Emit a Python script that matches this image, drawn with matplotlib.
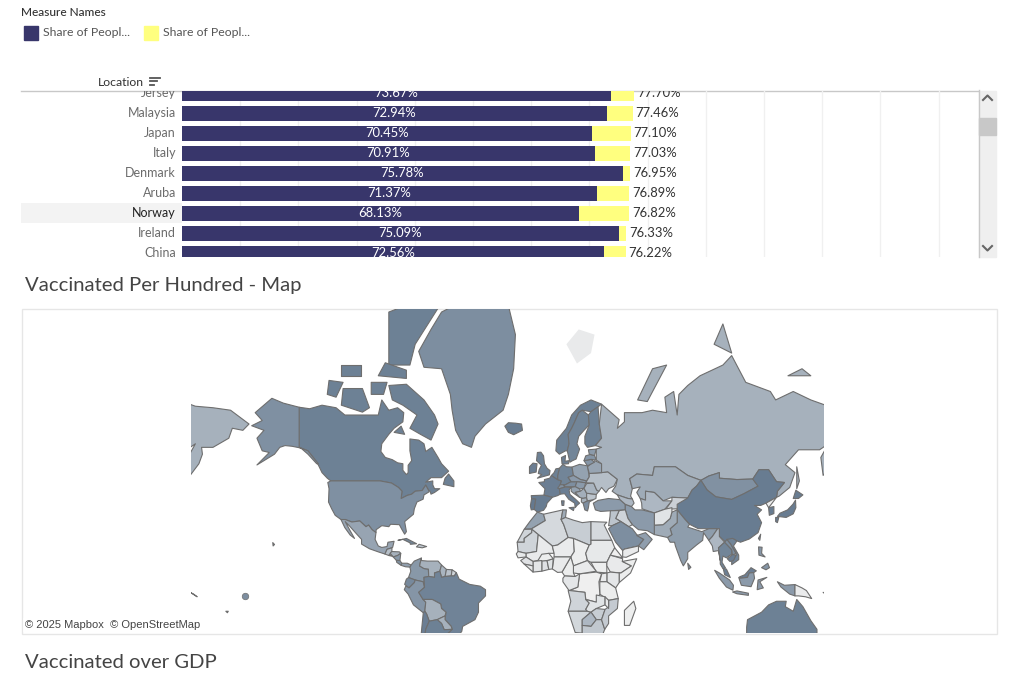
import numpy as np
import matplotlib
matplotlib.use('Agg')
import matplotlib.pyplot as plt
from matplotlib.colors import LinearSegmentedColormap
from matplotlib.patches import Polygon, Rectangle

plt.rcParams['font.family'] = ['Lato', 'DejaVu Sans']

# bar chart values
locations = ['Jersey', 'Malaysia', 'Japan', 'Italy', 'Denmark', 'Aruba', 'Norway', 'Ireland', 'China']
fully_vacc = [73.67, 72.94, 70.45, 70.91, 75.78, 71.37, 68.13, 75.09, 72.56]
at_least_one = [77.70, 77.46, 77.10, 77.03, 76.95, 76.89, 76.82, 76.33, 76.22]

# rough country outlines, (lon, lat)
canada = [(-141,69.6),(-135,69.3),(-128,70),(-120,69.5),(-115,68),(-108,68),(-100,68),(-96,68),(-94,71),(-90,69),(-85,69.5),(-81.5,68.5),(-82,66.5),(-87,65),(-90,63.5),(-94,61),(-94.5,58.8),(-92,57),(-88,56.3),(-85,55.3),(-82,55),(-82,52.8),(-80,51.3),(-79,52),(-79,54.5),(-77,56),(-78,59),(-78,62.3),(-73,62),(-70,61),(-69,58.8),(-65.5,60),(-62,57),(-60,55),(-56,52.5),(-60,50.2),(-66,50.2),(-69,48.5),(-65,49),(-65,47.5),(-64,46),(-61,46),(-64,44.5),(-66,43.8),(-66.5,45),(-67.5,45.5),(-69,47.4),(-71,45.3),(-75,45),(-77,43.8),(-79.5,43.3),(-83,42),(-82.5,45),(-84.5,46.5),(-88.5,48.2),(-95,49),(-123,49),(-125,50),(-128,52),(-130,54.5),(-133,57),(-136,59),(-141,60)]
baffin = [(-62,66),(-66,62),(-72,63.5),(-78,65),(-74,68),(-82,70),(-88,71),(-90,73.5),(-80,73.7),(-70,71),(-64,68)]
victoria_isl = [(-117,70),(-105,68.6),(-101,69.5),(-105,73),(-116,73)]
banks_isl = [(-125,72),(-120,71.5),(-116,74),(-124,74.3)]
ellesmere = [(-90,76.5),(-78,76.5),(-75,79),(-62,82.3),(-70,83),(-90,82)]
devon_isl = [(-96,75),(-80,74.6),(-80,75.8),(-92,76.8)]
melville_isl = [(-117,75),(-106,75),(-106,76.5),(-117,76.5)]
somerset_isl = [(-100,72),(-93,72),(-91,74),(-100,74)]
southampton = [(-87,64),(-81,63.5),(-83,65.5)]
newfoundland = [(-59,47.7),(-53,46.8),(-53,49),(-56,51.5),(-58,50)]
greenland = [(-73,78.2),(-66,80.5),(-60,82),(-40,83.3),(-22,82.5),(-18,80),(-19,76),(-22,72),(-25,69),(-35,66),(-41,63),(-43,60),(-48,61),(-52,64.5),(-54,69),(-55,72),(-60,76),(-70,76.2)]
alaska = [(-141,69.6),(-150,70.4),(-156.5,71.3),(-166,68.5),(-162,66.8),(-168,65.6),(-161,64.5),(-165,62.5),(-162,59),(-158,58.5),(-165,54.6),(-155,58),(-152,60),(-149,60.5),(-145,60.3),(-140,59.8),(-136,58),(-131,55),(-130,55),(-133,57),(-136,59),(-141,60)]
usa = [(-123,49),(-95,49),(-88.5,48.2),(-84.5,46.5),(-82.5,45),(-83,42),(-79.5,43.3),(-77,43.8),(-75,45),(-71,45.3),(-69,47.4),(-67.5,45.5),(-67,44.8),(-70,43.5),(-70.5,41.7),(-74,40.5),(-75.5,37.5),(-76,35),(-81,31.5),(-80,26.5),(-81,25.2),(-82.8,28),(-84,30),(-89,30.2),(-90,29),(-94,29.5),(-97.2,27.5),(-97.3,26),(-99.5,27.5),(-101.5,29.8),(-103,29),(-106.5,31.8),(-111,31.3),(-114.8,32.5),(-117.2,32.5),(-120.5,34.5),(-122.5,37.5),(-124.3,40.5),(-124,46),(-124.7,48.4)]
hawaii = [(-156,20.8),(-155,19.8),(-155.8,19)]
mexico = [(-117.2,32.5),(-114.8,32.5),(-111,31.3),(-106.5,31.8),(-103,29),(-101.5,29.8),(-99.5,27.5),(-97.3,26),(-97.8,22.5),(-96,19),(-94,18.2),(-91,18.7),(-90.5,21),(-87,21.5),(-87.8,18.3),(-89,17.8),(-91,17.2),(-92.2,14.6),(-96,15.8),(-101,17.5),(-105.5,20),(-105.5,22.5),(-109,26),(-112.5,29.5),(-114.8,31.5),(-112,27),(-109.5,23),(-112,24.8),(-115,28.5)]
guatemala = [(-92.2,14.6),(-91,17.2),(-89,17.8),(-88.2,18),(-88.3,16),(-89.2,15),(-90,13.8)]
honduras = [(-89.2,15),(-88.3,16),(-84,15.8),(-83.2,15),(-85,13.8),(-87.5,13)]
el_salvador = [(-90,13.8),(-89.2,14.3),(-87.8,13.3)]
nicaragua = [(-87.5,13),(-85,13.8),(-83.2,15),(-83.7,11),(-85.7,11.1)]
costa_rica = [(-85.7,11.1),(-83.7,11),(-82.6,9.5),(-83,8.3),(-85.5,10)]
panama = [(-83,8.3),(-82.6,9.5),(-79.5,9.5),(-77.3,8.5),(-78,7.3),(-80.5,7.5)]
cuba = [(-84.8,22),(-80,23),(-74.2,20.2),(-77.7,19.9),(-78,20.7),(-82,22.5)]
hispaniola = [(-74.3,18.5),(-72.8,19.9),(-68.5,18.7),(-71,18)]
colombia = [(-77.3,8.5),(-75.5,10.7),(-71.5,12.4),(-72.5,8),(-70,6.5),(-67.5,6.2),(-67.3,2),(-70,1.5),(-69.7,-4.2),(-70.5,-1),(-75,0),(-78.8,1.4),(-77.5,5),(-78,7.3)]
venezuela = [(-71.5,12.4),(-71.5,11),(-68,10.7),(-62,10.7),(-60,8.5),(-61,5),(-64,4),(-64,1.5),(-67.3,2),(-67.5,6.2),(-70,6.5),(-72.5,8)]
guyana = [(-60,8.5),(-57.2,6),(-58,2),(-60,1.5),(-61,5)]
suriname = [(-57.2,6),(-54,5.8),(-54.5,2.3),(-58,2)]
fr_guiana = [(-54,5.8),(-51.6,4.2),(-52.7,2.3),(-54.5,2.3)]
ecuador = [(-78.8,1.4),(-75,0),(-75.5,-1.5),(-78.5,-4.5),(-81,-2.5),(-80,0.5)]
peru = [(-80.3,-3.4),(-78.5,-4.5),(-75.5,-1.5),(-75,0),(-70.5,-1),(-69.7,-4.2),(-73,-7),(-70.5,-11),(-69,-12.5),(-69.5,-17.5),(-70.4,-18.3),(-76,-14),(-79,-8),(-81.2,-5.5)]
brazil = [(-61,5),(-60,1.5),(-58,2),(-54.5,2.3),(-52.7,2.3),(-51.6,4.2),(-50,0.5),(-44,-2.5),(-38,-3.5),(-35,-5.5),(-35,-9),(-39,-13),(-39,-18),(-41,-22),(-48,-25.5),(-48.5,-28),(-52,-32),(-53.5,-34),(-57.5,-30),(-54,-27),(-54.5,-25.5),(-58,-22),(-57.5,-18),(-60,-16),(-60.5,-13.5),(-65.3,-11),(-70.5,-11),(-73,-7),(-69.7,-4.2),(-70,1.5),(-67.3,2),(-64,1.5),(-64,4)]
bolivia = [(-69,-12.5),(-70.5,-11),(-65.3,-11),(-60.5,-13.5),(-60,-16),(-57.5,-18),(-58,-20),(-62.5,-22),(-67,-22.8),(-68.5,-19),(-69.5,-17.5)]
paraguay = [(-58,-20),(-58,-22),(-54.5,-25.5),(-54,-27),(-58.5,-27.2),(-60,-24),(-62.5,-22)]
chile = [(-70.4,-18.3),(-69.5,-17.5),(-68.5,-19),(-67,-22.8),(-69,-27),(-70,-33),(-72,-33)]
argentina = [(-67,-22.8),(-62.5,-22),(-60,-24),(-58.5,-27.2),(-54,-27),(-57.5,-30),(-58.5,-34),(-62,-39),(-69,-40),(-70,-33),(-69,-27)]

norway = [(5,59),(7,58),(10.5,59),(11.5,59),(12.5,61),(12,63.5),(14,65),(15.5,66.3),(18,68.5),(20,69),(25,68.7),(29,69.7),(31,70.2),(25,71),(19,70),(14,68),(11,65),(5.5,62)]
sweden = [(11.5,59),(13,55.5),(14.5,56),(16.5,56.5),(18.5,59.5),(17,61),(18,63),(21,64.5),(24,65.8),(23.5,68),(20,69),(18,68.5),(15.5,66.3),(14,65),(12,63.5),(12.5,61)]
finland = [(24,65.8),(21.5,63),(21.5,61),(23,60),(27.5,60.5),(31,62.5),(29.7,66),(29,69.7),(25,68.7),(23.5,68)]
denmark = [(8.5,55),(8.2,57),(10.5,57.6),(10.2,55.8),(12.5,56),(12.2,55),(9.8,54.9)]
iceland = [(-24,65.5),(-22,64),(-19,63.4),(-14,64.5),(-14.5,66),(-18,66.2),(-22,66.3)]
svalbard = [(11,79),(17,76.7),(25,78),(27,80),(18,80.5)]
uk = [(-5.5,50),(1.3,51.2),(1.7,52.7),(0,53.5),(-1.5,55),(-2,57.5),(-3.5,58.6),(-5.5,58.5),(-6,56),(-3.2,54.5),(-4.5,53),(-5,51.7),(-3,51.3)]
ireland = [(-10,51.7),(-6.2,52.2),(-6,53.5),(-5.7,55),(-8,55.2),(-10,54)]
france = [(-1.8,43.4),(3,42.5),(6,43.2),(7.5,43.8),(7,46),(7.5,47.6),(8.2,49),(6,49.5),(2.5,51),(1.5,50),(-1.5,49.5),(-1.5,48.7),(-4.7,48.4),(-1.2,46)]
spain = [(-9,43.2),(-1.8,43.4),(3,42.5),(0,40),(-0.5,38.5),(-2,36.8),(-5.5,36),(-7.3,37.2),(-7,39.5),(-6.5,41.7),(-8.8,41.9)]
portugal = [(-8.8,41.9),(-6.5,41.7),(-7,39.5),(-7.3,37.2),(-9,37),(-9.5,38.8)]
germany = [(6,51),(7,53.5),(9,54.8),(11,54),(14.2,53.9),(15,51),(12,50.3),(13.7,48.7),(10,47.4),(7.5,47.6),(8.2,49),(6,49.5)]
benelux = [(2.5,51),(4,52),(5,53.3),(7,53.5),(6,51),(6,49.5)]
switzerland = [(6,46.2),(7,46),(10,46.5),(9.5,47.5),(7.5,47.6)]
austria = [(9.5,47.5),(10,47.4),(13.7,48.7),(17,48.7),(16,46.8),(10,46.8)]
italy = [(7,46),(7.5,43.8),(10,44),(12.3,41.7),(15.7,40),(16,38),(17,39),(18.5,40),(16,41.8),(13,43.7),(12.5,45.5),(13.7,46.5),(10,46.6)]
sicily = [(12.5,38),(15.5,38.2),(15,36.7)]
sardinia = [(8.2,41),(9.7,41),(9.5,39),(8.5,39)]
poland = [(14.2,53.9),(18.5,54.8),(23,54.3),(24,50.5),(22.5,49),(19,49.5),(15,51)]
czechoslovakia = [(12,50.3),(15,51),(19,49.5),(22.5,49),(22,48.3),(17,48.7),(13.7,48.7)]
hungary = [(16,46.8),(17,48.7),(22,48.3),(21,46.2),(18.5,45.9)]
croatia = [(13.7,46.5),(16,46.8),(18.5,45.9),(19,45),(16,44.5),(18.5,42.5),(15,44.2),(13.7,45)]
serbia = [(19,45),(21,46.2),(22.5,44.2),(22.5,42.3),(20.5,42),(18.5,42.5),(16,44.5)]
albania = [(19.5,42),(22.5,42.3),(23,41),(20.5,40),(19.5,40.5)]
greece = [(20.5,40),(23,41),(26.3,41.5),(24,40.5),(23.5,38),(23,36.5),(21.5,37),(21,38.5)]
bulgaria = [(22.5,44.2),(28,43.7),(27.8,42),(26.3,41.5),(23,41),(22.5,42.3)]
romania = [(21,46.2),(22.5,48),(26.5,48.2),(28.2,45.5),(29.5,45),(28,43.7),(22.5,44.2)]
ukraine = [(22,48.3),(24,50.5),(24,51.7),(31,52),(34.5,52.3),(40,49.6),(38,47),(35,46),(33.5,44.5),(31,46.5),(29.5,45),(28.2,45.5),(26.5,48.2)]
belarus = [(24,51.7),(23,54),(27,56),(31,55),(31,52)]
lithuania = [(21,56),(23,54.3),(27,55.5),(25,56.4)]
latvia = [(21,56),(25,56.4),(28,56.2),(27,57.6),(24.5,57.9),(22,57.5)]
estonia = [(24,58),(27,57.6),(28,59.5),(23.5,59.3)]
turkey = [(26.3,40),(29,41.2),(35,42),(41.5,41.5),(44.5,39.5),(44.5,37),(36,36.6),(30.5,36.3),(27.5,37)]

russia = [(31,70.2),(41,67),(40,65),(44,66.5),(44,68.5),(54,68.5),(60,69),(68,68.5),(67,71.5),(72,72.5),(74,68),(75,72),(80,73.5),(87,75),(100,76.5),(105,77.7),(113,74),(127,72.5),(130,71),(140,72.5),(150,71),(160,69.8),(170,69.5),(180,69),(190.5,66),(187,64.5),(181,65),(179,62.5),(170,60),(163.5,60),(164,58),(162,55),(157,51),(155.7,57),(160,61),(155,59.3),(143,59.3),(135.5,54.7),(141,52),(138,46.5),(132,43),(130.5,42.5),(131,45),(135,48.4),(130.5,48.7),(126,53),(120.5,53),(117,49.7),(108,49.5),(98,50),(98,52),(92,50.8),(87.5,49.2),(80,51),(73,54),(61,54),(60,51),(51,51.5),(47,49.8),(48.5,46),(47.5,43),(48.5,41.8),(46,42),(40,43.5),(37,45),(39,47),(40,49.6),(34.5,52.3),(31,52),(31,55),(28,56.2),(28,59.5),(31,60),(27.5,60.5),(31,62.5),(29.7,66)]
sakhalin = [(142,54),(143.5,49),(142,46),(142,50)]
novaya_zemlya = [(51.5,71),(57,70.7),(68,76.5),(60,76)]
severnaya = [(95,79),(105,78),(100,81)]
new_siberian = [(137,75),(150,75),(145,76)]
kazakhstan = [(47,49.8),(51,51.5),(60,51),(61,54),(73,54),(80,51),(87.5,49.2),(85,47),(82.5,45.5),(80,42.2),(71,42.5),(66,41),(61,44.5),(56,45),(56,41.3),(53,42),(51,44.5),(53,46.7),(48.5,46)]
uzbekistan = [(53,42),(56,41.3),(56,45),(61,44.5),(66,41),(71,41),(67,37.3),(61,35.6),(54,37.5),(53.8,40)]
kyrgyzstan = [(71,42.5),(80,42.2),(74,37.5),(67.5,37.3),(71,41)]
mongolia = [(87.5,49.2),(92,50.8),(98,52),(98,50),(108,49.5),(117,49.7),(120,47),(112,44),(105,41.6),(96,42.7),(91,45.5)]
china = [(74,39.5),(80,42.2),(82.5,45.5),(85,47),(87.5,49.2),(91,45.5),(96,42.7),(105,41.6),(112,44),(120,47),(117,49.7),(120.5,53),(126,53),(130.5,48.7),(135,48.4),(131,45),(130.5,42.5),(124.5,40),(121.5,39),(118,39),(122,37),(119.5,35),(122,31),(120,26),(115,22.7),(110,21),(108,21.7),(105.5,23),(101.5,21.2),(98,24),(98,28),(92,28),(86,28),(81,30.2),(78.5,32.5),(74,37)]
north_korea = [(124.5,40),(130.5,42.5),(127.5,39.5),(126,38)]
south_korea = [(126,38),(129,38.5),(129,35.3),(126.4,34.5)]
honshu = [(131,34),(136,33.5),(140,35.2),(141.5,38),(141.3,41.3),(139.8,39.5),(136.8,37),(132.5,35.5)]
hokkaido = [(140,42),(141.5,45.4),(145.5,43.5),(143,42)]
kyushu = [(130,33.5),(131.8,33.5),(131,31),(130,31.5)]
india = [(74,37),(78.5,32.5),(81,30.2),(80,28.8),(88,26.5),(92,28),(97,28),(94,24),(92,22),(89,26),(88.5,22),(85,19.5),(80,15.5),(80,12),(77.5,8),(76,11),(73,19),(72.5,21),(70,21),(68.5,23.5),(71,25),(70,28),(74,31)]
pakistan = [(61,25),(68.5,23.5),(71,25),(70,28),(74,31),(74,37),(71,36),(70,33),(66,30),(61,29.8)]
afghanistan = [(61,35.6),(67,37.3),(71,38),(71,36),(70,33),(66,30),(61,29.8)]
iran = [(44.5,39.5),(48,38.5),(50,37),(54,37),(61,35.6),(61,25),(57,27),(52,27.5),(48.5,30),(46,33),(44.5,37)]
iraq = [(44.5,37),(46,33),(48.5,30),(46.5,29),(42,31.5),(39,33),(41,36.7)]
syria = [(36,36.6),(41,36.7),(39,33),(42,31.5),(37,29.5),(35,29.5),(35.8,34)]
saudi = [(35,28),(37,29.5),(42,31.5),(46.5,29),(48.5,28),(51,25),(55,22.5),(52,19),(44,17.3),(43,16.5),(39,21)]
oman = [(51,24.5),(56,26),(59.8,22.5),(55,17),(52,19),(55,22.5)]
yemen = [(43,13),(43,16.5),(44,17.3),(52,19),(52,16),(45,12.8)]
caucasus = [(40,43.5),(46,42),(48.5,41.8),(49.5,40),(48,38.5),(44.5,39.5),(41.5,41.5)]
myanmar = [(92,22),(94,24),(97,28),(98,28),(98,24),(101,21),(97.5,18),(98.5,11),(97.5,16.5),(94.5,16),(94,19)]
thailand = [(97.5,18),(101,21),(105,17),(105,14.5),(102,12.5),(100,13.5),(99.5,10),(101.5,6.8),(100,6.5),(98.5,9),(98.5,11)]
laos = [(101,21),(102.3,22.5),(104.5,20),(107.5,15),(105.5,14),(105,17)]
vietnam = [(102.3,22.5),(105.5,23),(108,21.7),(106,19),(109,14),(109,11.5),(105,8.7),(105,10.5),(107.5,14),(107.5,15),(104.5,20)]
cambodia = [(102.5,12),(105.5,14.3),(107.5,14),(106,11),(104,10.5)]
malaya = [(100.2,6.5),(102,6.2),(103.5,3),(104.2,1.4),(101,3)]
sarawak = [(109.5,1.8),(112.5,3),(116,7),(119,5.2),(117.5,4.2),(115,4),(114,1.5),(110,1)]
kalimantan = [(109,1.5),(110,1),(114,1.5),(115,4),(117.5,4.2),(118,1),(116,-3.8),(110.5,-3)]
sumatra = [(95.3,5.5),(98,4),(103.8,0),(106,-3),(105.7,-5.8),(102,-4),(98,1)]
java = [(105.5,-6.8),(108,-6.2),(114.5,-7.5),(114.5,-8.7),(108,-7.8)]
sulawesi = [(119.5,-5.5),(120,0),(125,1.5),(121,-1),(123,-4.5)]
west_papua = [(131,-1),(135,-3),(141,-2.6),(141,-9),(138,-8),(133,-4)]
png = [(141,-2.6),(145,-4.5),(147.5,-6),(150.5,-10.5),(147,-9.5),(143,-9),(141,-9)]
luzon = [(120.3,18.5),(122.3,18.3),(122,15),(124,13),(120.5,14)]
mindanao = [(122,7),(125.5,9.5),(126.5,7),(124.5,5.8)]
sri_lanka = [(80,9.5),(81.8,7.2),(80.5,6)]
taiwan = [(120.2,23),(121.5,25.2),(121,22)]
australia = [(113.5,-26),(114,-22),(122,-18),(126,-14),(130.5,-12),(136,-12),(135.5,-15),(140,-17.5),(142,-11),(145.5,-15),(150,-22.5),(153.5,-27),(153.5,-30),(113.5,-30)]
solomon = [(157,-7),(161,-9.5),(159,-8)]
fiji = [(177.3,-17.5),(178.7,-17.5),(178.2,-18.3)]

morocco = [(-5.5,36),(-2,35),(-1,32),(-8.7,28),(-13,27.7),(-9.8,31.5)]
w_sahara = [(-8.7,27.7),(-13,27.7),(-17,21),(-13,21),(-13,23),(-8.7,26)]
algeria = [(-2,35),(9,37),(8,32.5),(9.5,30),(12,23.5),(6,19.5),(3,19),(-8.7,27.7),(-8.7,28),(-1,32)]
tunisia = [(9,37),(11,37),(10.5,33.5),(8,32.5)]
libya = [(10.5,33.5),(15,32.2),(20,31),(25,31.5),(25,20),(24,19.5),(15,23),(12,23.5),(9.5,30),(8,32.5)]
egypt = [(25,31.5),(34,31.2),(32.5,29.8),(36.8,22),(25,22)]
mauritania = [(-17,21),(-13,21),(-13,23),(-8.7,26),(-8.7,27.7),(-5,25),(-6,16),(-12,15),(-16.5,16)]
mali = [(-5,25),(3,19),(4,15),(1,15),(-3,11.5),(-8,10.5),(-12,13),(-12,15),(-6,16)]
niger = [(3,19),(6,19.5),(12,23.5),(15,23),(15.5,16),(13.5,13),(4,13),(4,15)]
chad = [(15,23),(24,19.5),(22,15),(23,11),(15,8),(13.5,13),(15.5,16)]
sudan = [(24,19.5),(25,20),(25,22),(36.8,22),(38.5,18),(36,14),(34,10),(25,10),(23,11),(22,15)]
south_sudan = [(25,10),(34,10),(34,4),(28,4.5)]
ethiopia = [(36,14),(43,12),(42.8,10.5),(48,8),(42,4),(36,4.5),(34,8),(34,10)]
eritrea = [(36,14),(38.5,18),(43,12.5)]
somalia = [(42.8,10.5),(51,12),(47.5,4),(41,-1.5),(41,4),(42,4),(48,8)]
kenya = [(34,4),(36,4.5),(41,4),(41,-1.5),(39,-4.5),(34,-1)]
uganda = [(30,-1),(34,-1),(34,4),(31,3.5)]
tanzania = [(30,-1),(34,-1),(39,-4.5),(40.5,-10.5),(35,-11.5),(30,-8)]
drc = [(12.5,-6),(17.5,-4),(18.5,3.5),(28,4.5),(31,3.5),(29.5,-1),(30,-8),(28,-12.5),(22,-11),(21.5,-7),(13,-6)]
car = [(15,8),(23,11),(28,5),(18.5,3.5),(15,4)]
cameroon = [(8.5,4.5),(13.5,13),(15,8),(15,4),(16,2),(10,2.3)]
nigeria = [(3,6.3),(4,13),(13.5,13),(8.5,4.5),(6,4.3)]
gabon = [(9,1),(10,2.3),(16,2),(18.5,3.5),(17.5,-4),(12.5,-6),(9,-1)]
ghana = [(-3,5),(1,6),(0,11),(-3,11)]
benin = [(1,6),(3,6.3),(3.5,12),(0,11)]
burkina = [(-5.5,10.5),(0,11),(3.5,12),(1,15),(-3,14.5)]
ivory_coast = [(-8,4.5),(-3,5),(-3,11),(-8,10.5)]
guinea = [(-15,11),(-12,13),(-8,10.5),(-8,8),(-13,9)]
liberia = [(-13,9),(-8,8),(-8,4.5)]
senegal = [(-17.5,14.7),(-16.5,16),(-12,15),(-12,13),(-16.5,12.5)]
angola = [(12,-6),(13,-6),(21.5,-7),(22,-11),(24,-13),(22,-16.5),(23,-17.5),(12,-17.5),(13.5,-12)]
namibia = [(12,-17.5),(23,-17.5),(25,-18),(20,-22),(20,-29),(16,-28.6)]
zambia = [(22,-11),(28,-12.5),(28,-8.5),(33,-9.5),(33,-14),(28,-16),(25,-18),(23,-17.5),(22,-16.5),(24,-13)]
zimbabwe = [(25,-18),(28,-16),(33,-16.5),(31,-22),(28,-22)]
botswana = [(20,-22),(25,-18),(28,-22),(25,-25.5),(20,-25)]
south_africa = [(16.5,-29),(20,-29),(20,-25),(25,-25.5),(28,-22),(31,-22),(32.8,-27),(31,-31),(18,-33)]
mozambique = [(40.5,-10.5),(35,-11.5),(35,-15),(33,-16.5),(31,-22),(32.8,-27),(35,-24),(35,-20),(40,-16)]
malawi = [(33,-9.5),(35,-11.5),(35,-16),(33,-14)]
madagascar = [(49.3,-12),(50.5,-16),(47,-25),(44,-25),(44,-17)]

america_shapes = [canada, baffin, victoria_isl, banks_isl, ellesmere, devon_isl, melville_isl, somerset_isl, southampton, newfoundland, greenland, alaska, usa, hawaii, mexico, guatemala, honduras, el_salvador, nicaragua, costa_rica, panama, cuba, hispaniola]
america_values = [88, 88, 88, 88, 88, 88, 88, 88, 88, 88, 78, 76, 76, 76, 60, 40, 50, 55, 70, 75, 65, 85, 35]
south_shapes = [colombia, venezuela, guyana, suriname, fr_guiana, ecuador, peru, brazil, bolivia, paraguay, chile, argentina]
south_values = [70, 50, 48, 38, 22, 82, 72, 86, 50, 50, 90, 88]
europe_shapes = [norway, sweden, finland, denmark, iceland, svalbard, uk, ireland, france, spain, portugal, germany, benelux, switzerland, austria, italy, sicily, sardinia, poland, czechoslovakia, hungary, croatia, serbia, albania, greece, bulgaria, romania, ukraine, belarus, lithuania, latvia, estonia, turkey]
europe_values = [88, 85, 88, 90, 92, 5, 88, 90, 90, 92, 94, 85, 88, 75, 78, 90, 90, 90, 62, 68, 68, 62, 52, 50, 78, 35, 48, 40, 60, 72, 72, 68, 68]
asia_shapes = [russia, sakhalin, novaya_zemlya, severnaya, new_siberian, kazakhstan, uzbekistan, kyrgyzstan, mongolia, china, north_korea, south_korea, honshu, hokkaido, kyushu, india, pakistan, afghanistan, iran, iraq, syria, saudi, oman, yemen, caucasus, myanmar, thailand, laos, vietnam, cambodia, malaya, sarawak, kalimantan, sumatra, java, sulawesi, west_papua, png, luzon, mindanao, sri_lanka, taiwan]
asia_values = [50, 50, 50, 50, 50, 55, 45, 25, 75, 92, 2, 92, 92, 92, 92, 66, 55, 10, 68, 22, 35, 78, 65, 5, 45, 45, 85, 78, 85, 90, 90, 90, 68, 68, 68, 68, 68, 4, 72, 72, 80, 90]
pacific_shapes = [australia, solomon, fiji]
pacific_values = [88, 15, 60]
africa_shapes = [morocco, w_sahara, algeria, tunisia, libya, egypt, mauritania, mali, niger, chad, sudan, south_sudan, ethiopia, eritrea, somalia, kenya, uganda, tanzania, drc, car, cameroon, nigeria, gabon, ghana, benin, burkina, ivory_coast, guinea, liberia, senegal, angola, namibia, zambia, zimbabwe, botswana, south_africa, mozambique, malawi, madagascar]
africa_values = [62, 22, 18, 55, 28, 18, 22, 5, 4, 2, 6, 2, 5, 1, 3, 8, 4, 3, 1, 5, 3, 5, 8, 12, 10, 3, 8, 12, 6, 6, 22, 20, 10, 28, 45, 32, 30, 5, 2]

# single island drawn as a dot
dot_lon = [-172]
dot_lat = [-9]
dot_value = [78]

navy = '#38366b'
yellow = '#ffff7f'
shade = LinearSegmentedColormap.from_list('shade', ['#f0f0f0', '#5c7289'])


def mercator(lat):
    return np.degrees(np.log(np.tan(np.radians(45 + np.asarray(lat) / 2.0))))


def px_axes(x0, y0, x1, y1):
    # axes placed by screen pixels, y counted from the top
    return fig.add_axes([x0 / 1021, 1 - y1 / 681, (x1 - x0) / 1021, (y1 - y0) / 681])


fig = plt.figure(figsize=(10.21, 6.81), dpi=100, facecolor='white')

# page level bits: legend, titles, scrollbar
page = px_axes(0, 0, 1021, 681)
page.set_xlim(0, 1021)
page.set_ylim(681, 0)
page.axis('off')
page.text(21, 13, 'Measure Names', fontsize=8.6, color='#333333', va='center', fontweight='medium')
page.add_patch(Rectangle((24, 26), 14, 14, color=navy))
page.text(43, 33, 'Share of Peopl...', fontsize=8.8, color='#555555', va='center')
page.add_patch(Rectangle((144, 26), 14, 14, color=yellow))
page.text(163, 33, 'Share of Peopl...', fontsize=8.8, color='#555555', va='center')
page.text(98, 82, 'Location', fontsize=8.8, color='#333333', va='center')
for yy, x_end in zip([77.5, 81, 84.5], [160, 157, 154]):
    page.plot([150, x_end], [yy, yy], color='#555555', lw=1.3)
page.plot([21, 978], [90.5, 90.5], color='#c8c8c8', lw=1)
page.plot([978.5, 978.5], [90, 257], color='#c8c8c8', lw=1)
page.add_patch(Rectangle((979, 91), 17, 166, color='#efefef'))
page.add_patch(Rectangle((979, 118), 17, 17, color='#c8c8c8'))
page.plot([983, 987.5, 992], [100, 95.5, 100], color='#666666', lw=1.5)
page.plot([983, 987.5, 992], [246, 250.5, 246], color='#666666', lw=1.5)
page.text(25, 286, 'Vaccinated Per Hundred - Map', fontsize=14.6, color='#444444', va='center')
page.text(25, 663, 'Vaccinated over GDP', fontsize=14.6, color='#444444', va='center')
page.add_patch(Rectangle((21.5, 308.5), 975, 325, fill=False, ec='#e6e6e6', lw=1))

# row labels, same rows as the bars
top_row, bottom_row = -0.1, 8.2
lab = px_axes(21, 91, 182, 257)
lab.set_xlim(21, 182)
lab.set_ylim(bottom_row, top_row)
lab.axis('off')
lab.axhspan(5.5, 6.5, color='#f3f3f3', lw=0)
for i, name in enumerate(locations):
    lab.text(176, i, name, ha='right', va='center', fontsize=9, clip_on=True,
             color='#222222' if name == 'Norway' else '#6b6b6b')

# stacked bars
ax = px_axes(182, 91, 978, 257)
ax.set_facecolor('none')
rows = np.arange(len(locations))
first = np.array(fully_vacc)
total = np.array(at_least_one)
ax.barh(rows, first, height=0.75, color=navy, zorder=2)
ax.barh(rows, total - first, left=first, height=0.75, color=yellow, zorder=2)
for i in rows:
    ax.text(first[i] / 2, i, '%.2f%%' % first[i], ha='center', va='center', color='white',
            fontsize=9.4, clip_on=True, zorder=3)
    ax.text(total[i] + 0.5, i, '%.2f%%' % total[i], ha='left', va='center', color='#333333',
            fontsize=9.4, clip_on=True, zorder=3)
ax.set_xlim(0, 796 / 5.82)
ax.set_ylim(bottom_row, top_row)
ax.set_xticks(np.arange(10, 140, 10))
ax.set_yticks([])
ax.grid(axis='x', color='#f0f0f0', lw=1, zorder=0)
ax.tick_params(length=0, labelbottom=False)
for s in ax.spines.values():
    s.set_visible(False)

# map, mercator with the seam at 157.5E so chukotka shows on the left
m = px_axes(191, 309, 824, 633)
m.set_xlim(-202.5, 157.5)
m.set_ylim(-53 / 1.758, 271 / 1.758)
m.axis('off')
all_shapes = america_shapes + south_shapes + europe_shapes + asia_shapes + pacific_shapes + africa_shapes
all_values = america_values + south_values + europe_values + asia_values + pacific_values + africa_values
for shape, val in zip(all_shapes, all_values):
    pts = np.array(shape, dtype=float)
    xy = np.column_stack([pts[:, 0], mercator(pts[:, 1])])
    for shift in [0, -360]:
        m.add_patch(Polygon(xy + [shift, 0], closed=True, fc=shade(val / 100.0),
                            ec='#8a8a8a' if shape is svalbard else '#6e6e6e',
                            lw=0 if shape is svalbard else 0.8, joinstyle='round'))
m.scatter(dot_lon, mercator(dot_lat), s=22, c=shade(dot_value[0] / 100.0), edgecolors='#6e6e6e', linewidths=0.5, zorder=3)

page2 = px_axes(0, 0, 1021, 681)
page2.set_xlim(0, 1021)
page2.set_ylim(681, 0)
page2.axis('off')
page2.text(25, 625, '© 2025 Mapbox  © OpenStreetMap', fontsize=8, family=['Liberation Sans', 'DejaVu Sans'],
           color='#444444', va='center',
           bbox=dict(fc='white', ec='none', alpha=0.75, pad=1.5))

fig.savefig('out.png', dpi=100)
